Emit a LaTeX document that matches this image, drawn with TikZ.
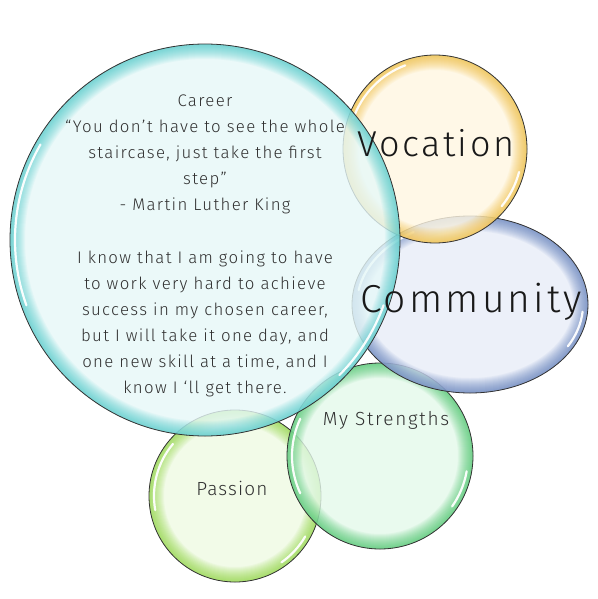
\documentclass[tikz,border=0pt]{standalone}
\usepackage{fontspec}
\setmainfont{Fira Sans}[UprightFont=* Light]
\definecolor{cyanfill}{HTML}{E6F8F8}
\definecolor{cyanglow}{HTML}{2EC2C2}
\definecolor{yelfill}{HTML}{FFF7E2}
\definecolor{yelglow}{HTML}{F0B21A}
\definecolor{bluefill}{HTML}{E8EDF8}
\definecolor{blueglow}{HTML}{4468B0}
\definecolor{grnfill}{HTML}{E4F9EA}
\definecolor{grnglow}{HTML}{28BC50}
\definecolor{limefill}{HTML}{EFFBE3}
\definecolor{limeglow}{HTML}{7CD01E}
\definecolor{txtgray}{HTML}{303030}
\newcommand\glassbub[8]{%
\begin{scope}[shift={(#1,#2)}]
 \fill[#5, fill opacity=0.8] (0,0) ellipse [x radius=#3pt, y radius=#4pt];
 \begin{scope}
  \clip (0,0) ellipse [x radius=#3pt, y radius=#4pt];
  \foreach \w in {2,4,...,30}
   \draw[#6, line width=\w pt, draw opacity=0.055] (0,0) ellipse [x radius=#3pt, y radius=#4pt];
 \end{scope}
 \draw[white, line width=2.2pt, draw opacity=0.95, line cap=round]
   ({#7}:{#3pt-5pt} and {#4pt-5pt}) arc[start angle=#7, delta angle=50, x radius=#3pt-5pt, y radius=#4pt-5pt];
 \draw[white, line width=2.2pt, draw opacity=0.95, line cap=round]
   ({#8}:{#3pt-5pt} and {#4pt-5pt}) arc[start angle=#8, delta angle=25, x radius=#3pt-5pt, y radius=#4pt-5pt];
 \draw[black!80, line width=0.8pt] (0,0) ellipse [x radius=#3pt, y radius=#4pt];
\end{scope}}
\begin{document}
\begin{tikzpicture}[x=1pt,y=-1pt,
  bodytxt/.style={text=txtgray, align=center, inner sep=0pt,
    font=\fontsize{16.8}{26.1}\selectfont\addfontfeature{LetterSpace=8}},
  bigtxt/.style={text=black!90, inner sep=0pt},
  midtxt/.style={text=txtgray, inner sep=0pt,
    font=\fontsize{19}{22}\selectfont\addfontfeature{LetterSpace=9}}]
\useasboundingbox (0,0) rectangle (597,599);
\fill[white] (0,0) rectangle (597,599);
% bubbles
\glassbub{235}{496}{86}{86}{limefill}{limeglow}{140}{-55}
\glassbub{380}{456}{93}{93}{grnfill}{grnglow}{155}{-35}
\glassbub{470}{304.5}{118}{88.5}{bluefill}{blueglow}{120}{-30}
\glassbub{435}{149}{92}{94}{yelfill}{yelglow}{110}{-40}
\glassbub{205}{240}{195}{196}{cyanfill}{cyanglow}{150}{-45}
% texts
\node[bodytxt] (career) at (205,246) {Career\\
“You don’t have to see the whole\\
staircase, just take the first\\
step”\\
- Martin Luther King\\
\mbox{}\\
I know that I am going to have\\
to work very hard to achieve\\
success in my chosen career,\\
but I will take it one day, and\\
one new skill at a time, and I\\
know I ‘ll get there.};
\node[bigtxt, font=\fontsize{36}{40}\selectfont\addfontfeature{LetterSpace=7}] (vocation) at (436,143.5) {Vocation};
\node[bigtxt, font=\fontsize{39}{44}\selectfont\addfontfeature{LetterSpace=8}] (community) at (471,302) {Community};
\node[midtxt] (strengths) at (386,420) {My Strengths};
\node[midtxt, font=\fontsize{19}{22}\selectfont\addfontfeature{LetterSpace=6}] (passion) at (232,488.5) {Passion};
\end{tikzpicture}
\end{document}
